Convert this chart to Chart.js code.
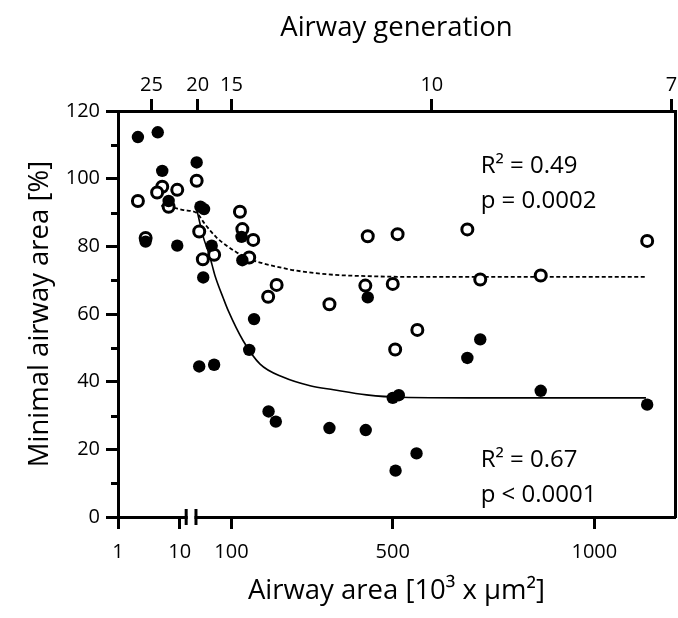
<!DOCTYPE html>
<html>
<head>
<meta charset="utf-8">
<script src="https://cdn.jsdelivr.net/npm/chart.js@4/dist/chart.umd.min.js"></script>
<style>
html,body{margin:0;padding:0;background:#fff;}
#wrap{width:678px;height:618px;}
</style>
</head>
<body>
<div id="wrap"><canvas id="c" width="678" height="618"></canvas></div>
<script>
// ---------------- DATA ----------------
// Filled circles (airway area [10^3 µm^2], minimal airway area [%])
const filledX = [2.1, 4.4, 5.2, 13.7, 23, 32, 2.8, 9.1, 6.6, 51, 125, 127, 30, 156, 144, 20, 57, 192, 210, 438, 717, 685, 500, 515, 343, 433, 559, 507, 867, 1131];
const filledY = [112.3, 113.7, 102.3, 104.8, 91.7, 91.0, 81.4, 80.2, 93.4, 80.2, 82.8, 75.9, 70.8, 58.5, 49.4, 44.5, 45.0, 31.2, 28.2, 64.9, 52.5, 47.0, 35.2, 36.0, 26.3, 25.7, 18.8, 13.7, 37.3, 33.2];
// Open circles
const openX = [2.1, 5.2, 4.3, 9.1, 6.6, 13.7, 20, 29, 57, 121, 127, 154, 144, 212, 191, 2.8, 438, 512, 685, 432, 500, 717, 343, 561, 506, 1131, 867];
const openY = [93.4, 97.6, 95.9, 96.7, 91.7, 99.4, 84.4, 76.2, 77.5, 90.2, 85.1, 81.9, 76.7, 68.6, 65.1, 82.5, 83.0, 83.6, 85.0, 68.4, 68.9, 70.2, 62.9, 55.3, 49.5, 81.6, 71.4];
// Fitted curve for filled circles (solid)
const solidFitX = [13, 30, 42.5, 51.7, 59, 80, 92, 129, 171, 229, 295, 353, 435, 518, 766, 1128];
const solidFitY = [91.4, 82.8, 78.4, 74.6, 71.4, 64.6, 61.0, 52.1, 45.2, 41.3, 38.8, 37.6, 36.1, 35.4, 35.2, 35.2];
// Fitted curve for open circles (dashed)
const dashedFitX = [5, 7.5, 11.6, 13.2, 34, 63, 88, 113, 146, 171, 212, 262, 352, 435, 518, 1126];
const dashedFitY = [92.0, 91.5, 90.7, 89.9, 86.6, 82.6, 80.2, 78.2, 76.2, 75.2, 74.0, 72.8, 71.6, 71.2, 71.0, 71.0];

// Axis ticks
const areaTicks = [1, 10, 100, 500, 1000];
const areaTickLabels = ['1', '10', '100', '500', '1000'];
const generationTickAreas = [3.47, 16.2, 100, 597, 1191];
const generationTickLabels = ['25', '20', '15', '10', '7'];
const yMinorTicks = [10, 30, 50, 70, 90, 110];

// Annotations
const noteTexts = ['R\u00B2 = 0.49', 'p = 0.0002', 'R\u00B2 = 0.67', 'p < 0.0001'];
const noteX = [718, 718, 718, 718];
const noteY = [103.6, 93.3, 16.9, 6.4];

// ---------------- BROKEN AXIS SCALE ----------------
const AREA_MIN = 1, AREA_MAX = 1200, LOG_END = 12;
const LOG_END_FRAC = 0.1197, LIN_START_FRAC = 0.1400;
function areaToFrac(v) {
  if (v <= LOG_END) return Math.log10(Math.max(v, AREA_MIN)) / Math.log10(LOG_END) * LOG_END_FRAC;
  return LIN_START_FRAC + (v - LOG_END) / (AREA_MAX - LOG_END) * (1 - LIN_START_FRAC);
}
function fracToArea(f) {
  if (f <= LOG_END_FRAC) return Math.pow(10, f / LOG_END_FRAC * Math.log10(LOG_END));
  return LOG_END + (f - LIN_START_FRAC) / (1 - LIN_START_FRAC) * (AREA_MAX - LOG_END);
}
const SCALE_TICKS = { x: areaTicks, x2: generationTickAreas };

class BrokenScale extends Chart.LinearScale {
  determineDataLimits() { this.min = AREA_MIN; this.max = AREA_MAX; }
  buildTicks() { return (SCALE_TICKS[this.id] || []).map(v => ({ value: v })); }
  getPixelForValue(v) { return this.left + this.width * areaToFrac(v); }
  getValueForPixel(p) { return fracToArea((p - this.left) / this.width); }
}
BrokenScale.id = 'broken';
BrokenScale.defaults = {};
Chart.register(BrokenScale);

// ---------------- PLUGINS ----------------
const FONT = 'Open Sans';
const decorPlugin = {
  id: 'decor',
  afterDraw(chart) {
    const ctx = chart.ctx;
    const ys = chart.scales.y, xs = chart.scales.x;
    ctx.save();
    ctx.strokeStyle = '#000';
    ctx.lineWidth = 3;
    // minor y ticks
    yMinorTicks.forEach(v => {
      const py = Math.round(ys.getPixelForValue(v)) + 0.5;
      ctx.beginPath();
      ctx.moveTo(ys.right - 7, py);
      ctx.lineTo(ys.right, py);
      ctx.stroke();
    });
    // axis break on bottom axis
    const yb = chart.chartArea.bottom;
    const b1 = xs.left + xs.width * LOG_END_FRAC + 1.5;
    const b2 = xs.left + xs.width * LIN_START_FRAC;
    ctx.fillStyle = '#fff';
    ctx.fillRect(b1 + 1.5, yb - 3, b2 - b1 - 3, 6);
    [b1, b2].forEach(bx => {
      ctx.beginPath();
      ctx.moveTo(bx, yb - 8);
      ctx.lineTo(bx, yb + 8);
      ctx.stroke();
    });
    ctx.restore();
  },
  afterDatasetsDraw(chart) {
    const ctx = chart.ctx;
    const xs = chart.scales.x, ys = chart.scales.y;
    ctx.save();
    ctx.fillStyle = '#000';
    ctx.font = '24px "' + FONT + '"';
    ctx.textAlign = 'left';
    ctx.textBaseline = 'middle';
    noteTexts.forEach((t, i) => {
      ctx.fillText(t, xs.getPixelForValue(noteX[i]), ys.getPixelForValue(noteY[i]));
    });
    ctx.restore();
  }
};

// ---------------- CHART ----------------
Chart.defaults.font.family = FONT;
Chart.defaults.color = '#000';

const toPts = (xs, ys) => xs.map((x, i) => ({ x: x, y: ys[i] }));

new Chart(document.getElementById('c'), {
  type: 'scatter',
  data: {
    datasets: [
      { label: 'filled', data: toPts(filledX, filledY), order: 0,
        pointRadius: 6.2, pointBackgroundColor: '#000', pointBorderWidth: 0, showLine: false },
      { label: 'open', data: toPts(openX, openY), order: 1,
        pointRadius: 5.5, pointBackgroundColor: '#fff', pointBorderColor: '#000', pointBorderWidth: 3, showLine: false },
      { label: 'solid fit', data: toPts(solidFitX, solidFitY), order: 2, showLine: true,
        pointRadius: 0, borderColor: '#000', borderWidth: 1.6, cubicInterpolationMode: 'monotone' },
      { label: 'dashed fit', data: toPts(dashedFitX, dashedFitY), order: 3, showLine: true,
        pointRadius: 0, borderColor: '#000', borderWidth: 1.8, borderDash: [4, 2.5], cubicInterpolationMode: 'monotone' }
    ]
  },
  options: {
    responsive: false,
    animation: false,
    devicePixelRatio: 1,
    layout: { padding: 0, autoPadding: false },
    plugins: { legend: { display: false }, tooltip: { enabled: false } },
    scales: {
      x: {
        type: 'broken', position: 'bottom',
        ticks: { autoSkip: false, maxRotation: 0, font: { size: 20 }, color: '#000', padding: 11,
                 callback: (v, i) => areaTickLabels[i] },
        grid: { display: true, drawOnChartArea: false, drawTicks: true, tickLength: 12, tickWidth: 3, tickColor: '#000' },
        border: { display: true, width: 3, color: '#000' },
        title: { display: true, text: 'Airway area [10\u00B3 x \u00B5m\u00B2]', font: { size: 27.5 }, color: '#000', padding: { top: 0, bottom: 10 } },
        afterFit: s => { s.height = 101; s.paddingLeft = 0; s.paddingRight = 0; }
      },
      x2: {
        type: 'broken', position: 'top',
        ticks: { autoSkip: false, maxRotation: 0, font: { size: 20 }, color: '#000', padding: 2,
                 callback: (v, i) => generationTickLabels[i] },
        grid: { display: true, drawOnChartArea: false, drawTicks: true, tickLength: 12, tickWidth: 3, tickColor: '#000' },
        border: { display: true, width: 3, color: '#000' },
        title: { display: true, text: 'Airway generation', font: { size: 27.5 }, color: '#000', padding: { top: 12, bottom: 0 } },
        afterFit: s => { s.height = 111; s.paddingLeft = 0; s.paddingRight = 0; }
      },
      y: {
        type: 'linear', position: 'left', min: 0, max: 120,
        ticks: { stepSize: 20, font: { size: 20 }, color: '#000', padding: 6 },
        grid: { display: true, drawOnChartArea: false, drawTicks: true, tickLength: 12, tickWidth: 3, tickColor: '#000' },
        border: { display: true, width: 3, color: '#000' },
        title: { display: true, text: 'Minimal airway area [%]', font: { size: 27.5 }, color: '#000', padding: { top: 24, bottom: 0 } },
        afterFit: s => { s.width = 118; s.paddingTop = 0; s.paddingBottom = 0; }
      },
      y2: {
        type: 'linear', position: 'right', min: 0, max: 120,
        ticks: { display: false },
        grid: { display: false, drawOnChartArea: false, drawTicks: false },
        border: { display: true, width: 3, color: '#000' },
        afterFit: s => { s.width = 3; s.paddingTop = 0; s.paddingBottom = 0; }
      }
    }
  },
  plugins: [decorPlugin]
});
</script>
</body>
</html>
